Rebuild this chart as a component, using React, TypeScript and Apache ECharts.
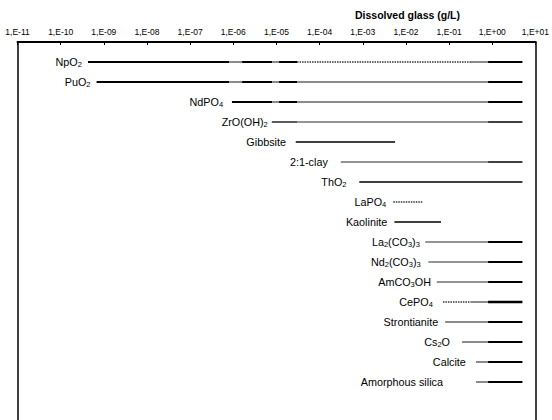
import { useEffect, useRef } from 'react';
import * as echarts from 'echarts';

const axisTitle = 'Dissolved glass (g/L)';

const minerals = [
  'NpO{s|2}', 'PuO{s|2}', 'NdPO{s|4}', 'ZrO(OH){s|2}', 'Gibbsite', '2:1-clay', 'ThO{s|2}',
  'LaPO{s|4}', 'Kaolinite', 'La{s|2}(CO{s|3}){s|3}', 'Nd{s|2}(CO{s|3}){s|3}', 'AmCO{s|3}OH',
  'CePO{s|4}', 'Strontianite', 'Cs{s|2}O', 'Calcite', 'Amorphous silica',
];

// where each mineral's label ends (g/L)
const labelAnchors = [
  3.1e-10, 4.9e-10, 5.8e-7, 6.3e-6, 1.66e-5, 1.55e-4, 4.2e-4, 3.5e-3, 3.7e-3,
  0.021, 0.022, 0.038, 0.042, 0.056, 0.105, 0.245, 0.072,
];

// [row, from (g/L), to (g/L), style]
const segments: [number, number, number, string][] = [
  [0, 4.3e-10, 8e-7, 'b'], [0, 8e-7, 1.6e-6, 'g'], [0, 1.6e-6, 8e-6, 'b'], [0, 8e-6, 1.15e-5, 'g'],
  [0, 1.15e-5, 3e-5, 'b'], [0, 3e-5, 0.32, 'd'], [0, 0.32, 0.8, 'g'], [0, 0.8, 5, 'b'],
  [1, 6.8e-10, 8e-7, 'b'], [1, 8e-7, 1.6e-6, 'g'], [1, 1.6e-6, 8e-6, 'b'], [1, 8e-6, 1.15e-5, 'g'],
  [1, 1.15e-5, 3e-5, 'b'], [1, 3e-5, 0.8, 'g'], [1, 0.8, 5, 'b'],
  [2, 9.3e-7, 8e-6, 'b'], [2, 8e-6, 1.15e-5, 'g'], [2, 1.15e-5, 3e-5, 'b'], [2, 3e-5, 0.8, 'g'], [2, 0.8, 5, 'b'],
  [3, 7.8e-6, 3e-5, 'k'], [3, 3e-5, 0.8, 't'], [3, 0.8, 5, 'k'],
  [4, 2.8e-5, 5.6e-3, 'k'],
  [5, 3.1e-4, 0.8, 't'], [5, 0.8, 5, 'k'],
  [6, 8.3e-4, 5, 'k'],
  [7, 5.1e-3, 0.025, 'd'],
  [8, 5.4e-3, 0.065, 'k'],
  [9, 0.028, 0.8, 't'], [9, 0.8, 5, 'b'],
  [10, 0.033, 0.8, 't'], [10, 0.8, 5, 'b'],
  [11, 0.052, 0.8, 't'], [11, 0.8, 5, 'b'],
  [12, 0.072, 0.32, 'd'], [12, 0.32, 0.8, 'g'], [12, 0.8, 5, 'B'],
  [13, 0.081, 0.8, 'g'], [13, 0.8, 5, 'b'],
  [14, 0.2, 0.8, 'g'], [14, 0.8, 5, 'b'],
  [15, 0.42, 0.8, 'g'], [15, 0.8, 5, 'b'],
  [16, 0.42, 0.8, 'g'], [16, 0.8, 5, 'b'],
];

const lineStyles: Record<string, any> = {
  b: { stroke: '#000', lineWidth: 2 },
  B: { stroke: '#000', lineWidth: 2.5 },
  k: { stroke: '#000', lineWidth: 1.3 },
  t: { stroke: '#2a2a2a', lineWidth: 1.2 },
  g: { stroke: '#8a8a8a', lineWidth: 2 },
  d: { stroke: '#333', lineWidth: 1.5, lineDash: [1.5, 1] },
};

const FONT = '"Liberation Sans", Arial, sans-serif';

const sideAxis = (position: 'left' | 'right') => ({
  type: 'value', inverse: true, min: 0, max: 18.9, position,
  axisLine: { show: true, onZero: false, lineStyle: { color: '#000', width: 1.5 } },
  axisTick: { show: false }, axisLabel: { show: false }, splitLine: { show: false },
});

export default function App() {
  const ref = useRef<HTMLDivElement>(null);
  useEffect(() => {
    const chart = echarts.init(ref.current!, null, { renderer: 'svg' });
    chart.setOption({
      animation: false,
      grid: { left: 17.5, right: 14.3, top: 42, bottom: 0, show: false },
      xAxis: {
        type: 'log', logBase: 10, position: 'top',
        min: 1e-11, max: 10, interval: 1,
        axisLine: { show: true, onZero: false, lineStyle: { color: '#000', width: 2 } },
        axisTick: { show: true, inside: true, length: 3, lineStyle: { color: '#000', width: 1 } },
        splitLine: { show: false },
        minorTick: { show: false },
        axisLabel: {
          show: true, color: '#000', fontSize: 8.5, fontFamily: FONT, margin: 6,
          showMinLabel: true, showMaxLabel: true,
          formatter: (v: number) => {
            const e = Math.round(Math.log10(v));
            return '1,E' + (e < 0 ? '-' : '+') + String(Math.abs(e)).padStart(2, '0');
          },
        },
      },
      yAxis: [sideAxis('left'), sideAxis('right')],
      graphic: [
        {
          type: 'text', x: 407.5, y: 15,
          style: {
            text: axisTitle, fill: '#000', fontSize: 10.5, fontWeight: 'bold', fontFamily: FONT,
            align: 'center', verticalAlign: 'middle',
          },
        },
      ],
      series: [
        {
          type: 'custom',
          coordinateSystem: 'cartesian2d',
          yAxisIndex: 0,
          data: segments.map((s) => [s[1], s[2], s[0] + 1]),
          encode: { x: [0, 1], y: 2 },
          renderItem: (params: any, api: any) => {
            const seg = segments[params.dataIndex];
            const p1 = api.coord([api.value(0), api.value(2)]);
            const p2 = api.coord([api.value(1), api.value(2)]);
            return {
              type: 'line',
              shape: { x1: p1[0], y1: p1[1], x2: p2[0], y2: p2[1] },
              style: { ...lineStyles[seg[3]] },
            };
          },
        },
        {
          type: 'custom',
          coordinateSystem: 'cartesian2d',
          yAxisIndex: 0,
          data: labelAnchors.map((v, i) => [v, i + 1]),
          encode: { x: 0, y: 1 },
          renderItem: (params: any, api: any) => {
            const p = api.coord([api.value(0), api.value(1)]);
            return {
              type: 'text',
              x: p[0], y: p[1],
              style: {
                text: minerals[params.dataIndex],
                fill: '#000', fontSize: 10.8, fontFamily: FONT, lineHeight: 13,
                align: 'right', verticalAlign: 'middle',
                rich: {
                  s: { fontSize: 7.5, lineHeight: 8, verticalAlign: 'bottom', fontFamily: FONT, fill: '#000' },
                },
              },
            };
          },
        },
      ],
    });
    return () => chart.dispose();
  }, []);
  return (
    <div
      ref={ref}
      style={{ position: 'fixed', left: 0, top: 0, width: 552, height: 420, background: '#fff' }}
    />
  );
}
